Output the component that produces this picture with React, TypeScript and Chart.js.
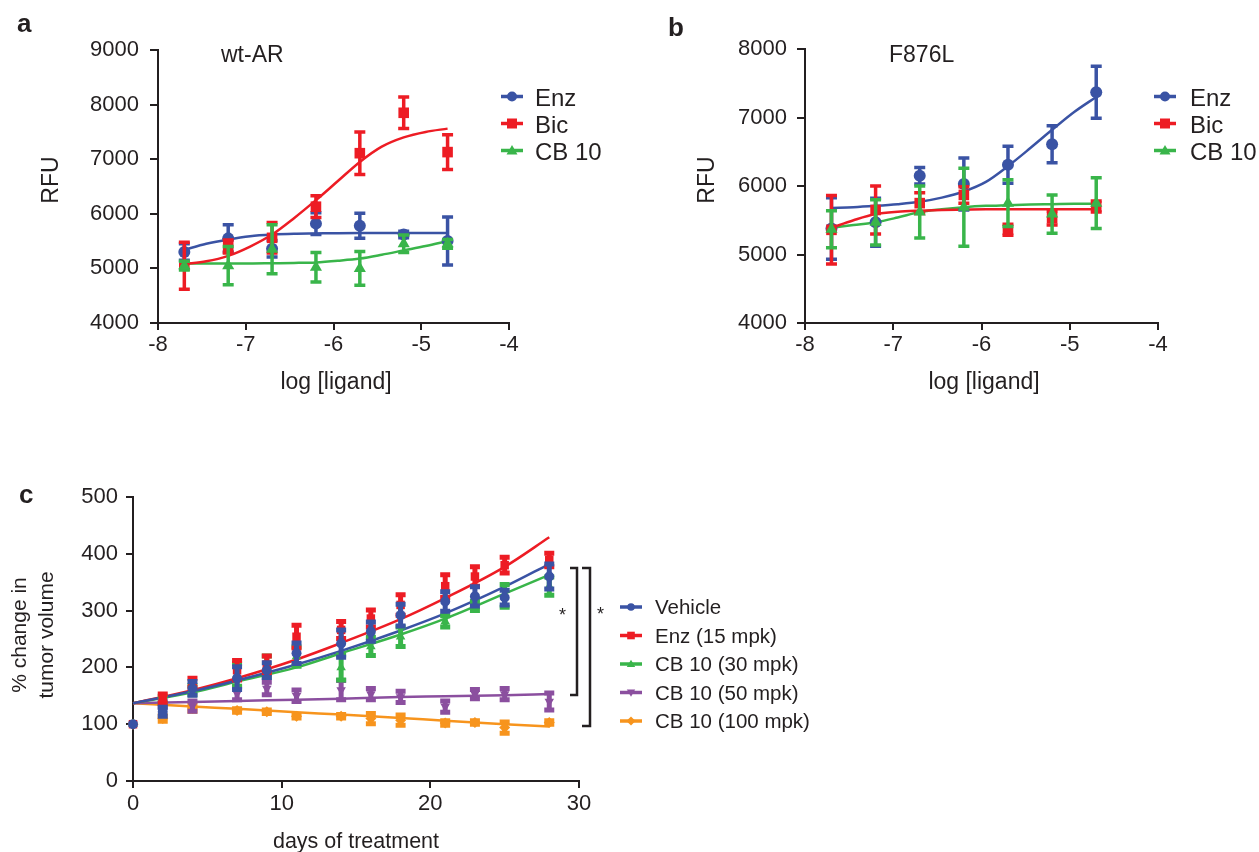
import React, { useEffect, useRef } from 'react';
import { Chart, registerables } from 'chart.js';

Chart.register(...registerables);

const FONT = '"Liberation Sans", Arial, Helvetica, sans-serif';
const INK = '#231F20';
const BLUE = '#3A53A4';
const RED = '#ED1C24';
const GREEN = '#39B54A';
const PURPLE = '#8B4F9F';
const ORANGE = '#F7941D';

// ---------- Panels a & b : log [ligand] vs RFU ----------
const logDose = [-7.7, -7.2, -6.7, -6.2, -5.7, -5.2, -4.7];
const fitDose = [-7.7, -7.45, -7.2, -6.95, -6.7, -6.45, -6.2, -5.95, -5.7, -5.45, -5.2, -4.95, -4.7];
const doseTicks = [-8, -7, -6, -5, -4];

// a: wt-AR
const wtEnz = [5300, 5550, 5360, 5820, 5780, 5620, 5500];
const wtEnzErr = [150, 250, 150, 200, 230, 60, 440];
const wtEnzFit = [5340, 5450, 5530, 5590, 5620, 5635, 5640, 5645, 5648, 5650, 5650, 5650, 5650];
const wtBic = [5050, 5400, 5560, 6130, 7110, 7850, 7130];
const wtBicErr = [430, 120, 280, 200, 390, 290, 320];
const wtBicFit = [5080, 5130, 5230, 5400, 5620, 5920, 6250, 6600, 6950, 7230, 7400, 7500, 7560];
const wtCB = [5050, 5050, 5350, 5020, 5000, 5450, 5450];
const wtCBErr = [80, 350, 450, 270, 310, 160, 80];
const wtCBFit = [5090, 5090, 5090, 5090, 5095, 5100, 5110, 5140, 5180, 5250, 5330, 5410, 5500];

// b: F876L
const mutEnz = [5380, 5470, 6150, 6030, 6310, 6610, 7370];
const mutEnzErr = [450, 350, 120, 380, 270, 270, 380];
const mutEnzFit = [5680, 5690, 5710, 5735, 5770, 5830, 5920, 6060, 6290, 6550, 6820, 7080, 7300];
const mutBic = [5360, 5650, 5750, 5870, 5360, 5530, 5700];
const mutBicErr = [500, 350, 150, 120, 80, 100, 80];
const mutBicFit = [5390, 5500, 5590, 5625, 5640, 5650, 5655, 5660, 5660, 5660, 5660, 5660, 5660];
const mutCB = [5370, 5470, 5620, 5690, 5750, 5590, 5750];
const mutCBErr = [270, 330, 380, 570, 340, 280, 370];
const mutCBFit = [5390, 5430, 5470, 5540, 5620, 5660, 5690, 5710, 5720, 5730, 5735, 5740, 5740];

const rfuTicksA = [4000, 5000, 6000, 7000, 8000, 9000];
const rfuTicksB = [4000, 5000, 6000, 7000, 8000];

// ---------- Panel c : tumor volume ----------
const days = [0, 2, 4, 7, 9, 11, 14, 16, 18, 21, 23, 25, 28];
const fitDays = [0, 4, 7, 11, 14, 18, 21, 25, 28];
const dayTicks = [0, 10, 20, 30];
const volTicks = [0, 100, 200, 300, 400, 500];

const vehicle = [100, 122, 163, 181, 195, 225, 242, 263, 292, 316, 325, 323, 360];
const vehicleErr = [0, 8, 12, 20, 13, 18, 24, 17, 19, 17, 17, 13, 22];
const vehicleFit = [137, 158, 177, 205, 229, 265, 295, 342, 382];
const enz15 = [100, 145, 173, 195, 205, 254, 266, 286, 310, 343, 360, 380, 389];
const enz15Err = [0, 8, 8, 17, 15, 20, 15, 15, 18, 20, 17, 14, 12];
const enz15Fit = [137, 160, 181, 214, 243, 285, 322, 377, 429];
const cb30 = [100, 143, 160, 187, 201, 219, 200, 237, 254, 281, 308, 326, 343];
const cb30Err = [0, 6, 8, 20, 19, 17, 22, 16, 17, 10, 8, 20, 16];
const cb30Fit = [137, 156, 175, 200, 225, 258, 286, 330, 363];
const cb50 = [100, 135, 132, 154, 163, 150, 160, 153, 148, 131, 153, 153, 140];
const cb50Err = [0, 5, 9, 11, 11, 10, 17, 10, 10, 10, 8, 10, 15];
const cb50Fit = [137, 139, 141, 143, 145, 148, 149, 151, 153];
const cb100 = [100, 110, 128, 124, 122, 114, 114, 110, 107, 102, 103, 94, 103];
const cb100Err = [0, 5, 5, 3, 3, 3, 3, 9, 9, 4, 3, 10, 3];
const cb100Fit = [137, 131, 127, 121, 117, 111, 106, 100, 96];

// ---------- helpers ----------
const errorBarPlugin = {
  id: 'errorBars',
  beforeDatasetDraw(chart: any, args: any) {
    const ds: any = chart.data.datasets[args.index];
    if (!ds.errorBars) return;
    const yScale = chart.scales.y;
    const ctx = chart.ctx;
    ctx.save();
    ctx.strokeStyle = ds.borderColor;
    ctx.lineWidth = ds.errorBarWidth || 3;
    ctx.lineCap = 'butt';
    args.meta.data.forEach((el: any, j: number) => {
      const e = ds.errorBars[j];
      if (!e) return;
      const v = ds.data[j].y;
      const x = el.x;
      const t = yScale.getPixelForValue(v + e);
      const b = yScale.getPixelForValue(v - e);
      const c = ds.errorCap || 5;
      ctx.beginPath();
      ctx.moveTo(x, t);
      ctx.lineTo(x, b);
      ctx.moveTo(x - c, t);
      ctx.lineTo(x + c, t);
      ctx.moveTo(x - c, b);
      ctx.lineTo(x + c, b);
      ctx.stroke();
    });
    ctx.restore();
  },
};

const pts = (xs: number[], ys: number[]) => xs.map((x, i) => ({ x, y: ys[i] }));

function pointSet(xs: number[], ys: number[], errs: number[], color: string, style: string, radius: number, ebw: number, cap: number, rotation = 0) {
  return {
    data: pts(xs, ys),
    showLine: false,
    borderColor: color,
    backgroundColor: color,
    pointStyle: style,
    pointRadius: radius,
    pointHoverRadius: radius,
    pointRotation: rotation,
    pointBorderWidth: 0,
    errorBars: errs,
    errorBarWidth: ebw,
    errorCap: cap,
    clip: false,
  };
}

function fitSet(xs: number[], ys: number[], color: string, width: number) {
  return {
    data: pts(xs, ys),
    showLine: true,
    borderColor: color,
    backgroundColor: color,
    borderWidth: width,
    pointRadius: 0,
    pointHoverRadius: 0,
    cubicInterpolationMode: 'monotone',
    fill: false,
    clip: false,
  };
}

function axis(min: number, max: number, tickValues: number[], size: number, tickLength: number, padding: number, fitSize: number, horizontal: boolean) {
  return {
    type: 'linear',
    min,
    max,
    afterBuildTicks: (s: any) => {
      s.ticks = tickValues.map((v) => ({ value: v }));
    },
    ticks: {
      font: { family: FONT, size },
      color: INK,
      padding,
      autoSkip: false,
      maxRotation: 0,
      callback: (v: any) => String(v),
    },
    grid: { drawOnChartArea: false, drawTicks: true, tickLength, color: INK, lineWidth: 2 },
    border: { display: true, color: INK, width: 2 },
    afterFit: (s: any) => {
      if (horizontal) s.height = fitSize;
      else s.width = fitSize;
    },
  };
}

function makeConfig(datasets: any[], xs: any, ys: any, padding: any) {
  return {
    type: 'scatter',
    data: { datasets },
    options: {
      animation: false,
      responsive: false,
      events: [],
      layout: { padding },
      plugins: { legend: { display: false }, tooltip: { enabled: false }, title: { display: false } },
      scales: { x: xs, y: ys },
    },
    plugins: [errorBarPlugin],
  };
}

function ChartCanvas({ left, top, width, height, config }: any) {
  const ref = useRef<HTMLCanvasElement>(null);
  useEffect(() => {
    const chart = new Chart(ref.current as HTMLCanvasElement, config);
    return () => chart.destroy();
  }, []);
  return <canvas ref={ref} width={width} height={height} style={{ position: 'absolute', left, top, width, height }} />;
}

function T({ x, y, size, bold, anchor, children }: any) {
  return (
    <div
      style={{
        position: 'absolute',
        left: x,
        top: y - 0.8465 * size,
        fontFamily: FONT,
        fontSize: size,
        lineHeight: `${size}px`,
        fontWeight: bold ? 700 : 400,
        color: INK,
        whiteSpace: 'nowrap',
        transform: anchor === 'middle' ? 'translateX(-50%)' : undefined,
      }}
    >
      {children}
    </div>
  );
}

function RT({ cx, cy, size, lh, children }: any) {
  return (
    <div
      style={{
        position: 'absolute',
        left: cx,
        top: cy,
        fontFamily: FONT,
        fontSize: size,
        lineHeight: `${lh}px`,
        color: INK,
        whiteSpace: 'nowrap',
        textAlign: 'center',
        transform: 'translate(-50%, -50%) rotate(-90deg)',
      }}
    >
      {children}
    </div>
  );
}

function Marker({ cx, cy, shape, r, color }: any) {
  if (shape === 'circle') return <circle cx={cx} cy={cy} r={r} fill={color} />;
  if (shape === 'rect') return <rect x={cx - r} y={cy - r} width={2 * r} height={2 * r} fill={color} />;
  if (shape === 'triangle')
    return <polygon points={`${cx},${cy - r * 1.1} ${cx - r * 1.1},${cy + r * 0.8} ${cx + r * 1.1},${cy + r * 0.8}`} fill={color} />;
  if (shape === 'triangleDown')
    return <polygon points={`${cx},${cy + r * 1.1} ${cx - r * 1.1},${cy - r * 0.8} ${cx + r * 1.1},${cy - r * 0.8}`} fill={color} />;
  return <polygon points={`${cx},${cy - r * 1.2} ${cx + r * 1.2},${cy} ${cx},${cy + r * 1.2} ${cx - r * 1.2},${cy}`} fill={color} />;
}

const legendAB = [
  { label: 'Enz', color: BLUE, shape: 'circle' },
  { label: 'Bic', color: RED, shape: 'rect' },
  { label: 'CB 10', color: GREEN, shape: 'triangle' },
];
const legendC = [
  { label: 'Vehicle', color: BLUE, shape: 'circle' },
  { label: 'Enz (15 mpk)', color: RED, shape: 'rect' },
  { label: 'CB 10 (30 mpk)', color: GREEN, shape: 'triangle' },
  { label: 'CB 10 (50 mpk)', color: PURPLE, shape: 'triangleDown' },
  { label: 'CB 10 (100 mpk)', color: ORANGE, shape: 'diamond' },
];

export default function App() {
  const abTickSize = 22;

  const configA = makeConfig(
    [
      pointSet(logDose, wtCB, wtCBErr, GREEN, 'triangle', 7, 3.5, 5.5),
      pointSet(logDose, wtBic, wtBicErr, RED, 'rect', 7.5, 3.5, 5.5),
      pointSet(logDose, wtEnz, wtEnzErr, BLUE, 'circle', 6, 3.5, 5.5),
      fitSet(fitDose, wtEnzFit, BLUE, 2.5),
      fitSet(fitDose, wtBicFit, RED, 2.5),
      fitSet(fitDose, wtCBFit, GREEN, 2.5),
    ],
    axis(-8, -4, doseTicks, abTickSize, 7, 2, 45, true),
    axis(4000, 9000, rfuTicksA, abTickSize, 8, 11, 158, false),
    { top: 50, left: 0, right: 21, bottom: 2 }
  );

  const configB = makeConfig(
    [
      pointSet(logDose, mutCB, mutCBErr, GREEN, 'triangle', 7, 3.5, 5.5),
      pointSet(logDose, mutBic, mutBicErr, RED, 'rect', 7.5, 3.5, 5.5),
      pointSet(logDose, mutEnz, mutEnzErr, BLUE, 'circle', 6, 3.5, 5.5),
      fitSet(fitDose, mutEnzFit, BLUE, 2.5),
      fitSet(fitDose, mutBicFit, RED, 2.5),
      fitSet(fitDose, mutCBFit, GREEN, 2.5),
    ],
    axis(-8, -4, doseTicks, abTickSize, 7, 2, 45, true),
    axis(4000, 8000, rfuTicksB, abTickSize, 8, 10, 165, false),
    { top: 49, left: 0, right: 22, bottom: 2 }
  );

  const configC = makeConfig(
    [
      pointSet(days, vehicle, vehicleErr, BLUE, 'circle', 5, 5, 5),
      pointSet(days, enz15, enz15Err, RED, 'rect', 6, 5, 5),
      pointSet(days, cb30, cb30Err, GREEN, 'triangle', 5.5, 5, 5),
      pointSet(days, cb50, cb50Err, PURPLE, 'triangle', 5.5, 5, 5, 180),
      pointSet(days, cb100, cb100Err, ORANGE, 'rectRot', 5.5, 5, 5),
      fitSet(fitDays, vehicleFit, BLUE, 2.5),
      fitSet(fitDays, enz15Fit, RED, 2.5),
      fitSet(fitDays, cb30Fit, GREEN, 2.5),
      fitSet(fitDays, cb50Fit, PURPLE, 2.5),
      fitSet(fitDays, cb100Fit, ORANGE, 2.5),
    ],
    axis(0, 30, dayTicks, 22, 7, 3, 45, true),
    axis(0, 500, volTicks, 22, 7, 8, 133, false),
    { top: 47, left: 0, right: 21, bottom: 2 }
  );

  const legABRowsA = [106.5, 133.5, 160.5];
  const legCRows = [614.5, 643, 671.5, 700, 728.5];

  return (
    <div style={{ position: 'absolute', left: 0, top: 0, width: 1259, height: 852, background: '#fff', overflow: 'hidden' }}>
      <ChartCanvas left={0} top={0} width={530} height={370} config={configA} />
      <ChartCanvas left={640} top={0} width={540} height={370} config={configB} />
      <ChartCanvas left={0} top={450} width={600} height={378} config={configC} />

      <svg width={1259} height={852} style={{ position: 'absolute', left: 0, top: 0, pointerEvents: 'none' }}>
        {legendAB.map((l, i) => (
          <g key={'la' + i}>
            <line x1={501} x2={523} y1={legABRowsA[i] - 10} y2={legABRowsA[i] - 10} stroke={l.color} strokeWidth={3.5} />
            <Marker cx={512} cy={legABRowsA[i] - 10} shape={l.shape} r={5} color={l.color} />
            <line x1={1154} x2={1176} y1={legABRowsA[i] - 10} y2={legABRowsA[i] - 10} stroke={l.color} strokeWidth={3.5} />
            <Marker cx={1165} cy={legABRowsA[i] - 10} shape={l.shape} r={5} color={l.color} />
          </g>
        ))}
        {legendC.map((l, i) => (
          <g key={'lc' + i}>
            <line x1={620} x2={642} y1={legCRows[i] - 7.5} y2={legCRows[i] - 7.5} stroke={l.color} strokeWidth={3.5} />
            <Marker cx={631} cy={legCRows[i] - 7.5} shape={l.shape} r={3.8} color={l.color} />
          </g>
        ))}
        <polyline points="570,568 577,568 577,695 570,695" fill="none" stroke={INK} strokeWidth={2.5} />
        <polyline points="582,568 590,568 590,726 582,726" fill="none" stroke={INK} strokeWidth={2.5} />
      </svg>

      {/* panel a */}
      <T x={17} y={32} size={26} bold>a</T>
      <T x={221} y={62} size={23}>wt-AR</T>
      <RT cx={50} cy={180} size={23} lh={23}>RFU</RT>
      <T x={336} y={389} size={23} anchor="middle">log [ligand]</T>
      {legendAB.map((l, i) => (
        <T key={'ta' + i} x={535} y={legABRowsA[i]} size={24}>{l.label}</T>
      ))}

      {/* panel b */}
      <T x={668} y={36} size={26} bold>b</T>
      <T x={889} y={62} size={23}>F876L</T>
      <RT cx={706} cy={180} size={23} lh={23}>RFU</RT>
      <T x={984} y={389} size={23} anchor="middle">log [ligand]</T>
      {legendAB.map((l, i) => (
        <T key={'tb' + i} x={1190} y={legABRowsA[i]} size={24}>{l.label}</T>
      ))}

      {/* panel c */}
      <T x={19} y={503} size={26} bold>c</T>
      <RT cx={31.5} cy={635} size={21} lh={27}>
        % change in
        <br />
        tumor volume
      </RT>
      <T x={356} y={849} size={21.5} anchor="middle">days of treatment</T>
      {legendC.map((l, i) => (
        <T key={'tc' + i} x={655} y={legCRows[i]} size={20.5}>{l.label}</T>
      ))}
      <T x={559} y={621} size={18}>*</T>
      <T x={597} y={620} size={18}>*</T>
    </div>
  );
}
